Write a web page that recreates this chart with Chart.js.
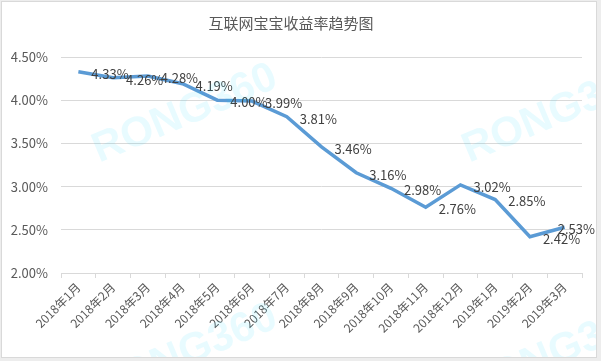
<!DOCTYPE html>
<html>
<head>
<meta charset="utf-8">
<script src="https://cdn.jsdelivr.net/npm/chart.js@4"></script>
<style>
  html, body { margin: 0; padding: 0; background: #ededed; }
  #wrap { width: 601px; height: 361px; }
</style>
</head>
<body>
<div id="wrap"><canvas id="yieldChart" width="601" height="361"></canvas></div>
<script>
'use strict';

// ---- data ----
const chartTitle = '互联网宝宝收益率趋势图';
const months = ['2018年1月', '2018年2月', '2018年3月', '2018年4月', '2018年5月', '2018年6月',
  '2018年7月', '2018年8月', '2018年9月', '2018年10月', '2018年11月', '2018年12月',
  '2019年1月', '2019年2月', '2019年3月'];
const yieldPct = [4.33, 4.26, 4.28, 4.19, 4.00, 3.99, 3.81, 3.46, 3.16, 2.98, 2.76, 3.02, 2.85, 2.42, 2.53];
const yTicks = [2.0, 2.5, 3.0, 3.5, 4.0, 4.5];

const FONT = "'Noto Sans CJK SC', 'Noto Sans', sans-serif";
const fmtPct = v => v.toFixed(2) + '%';

// frame + faint watermark
const framePlugin = {
  id: 'frame',
  beforeDraw(chart) {
    const c = chart.ctx;
    c.save();
    c.fillStyle = '#ededed';
    c.fillRect(0, 0, chart.width, chart.height);
    c.fillStyle = '#ffffff';
    c.fillRect(1, 1, 596, 357);
    c.strokeStyle = '#d9d9d9';
    c.lineWidth = 1;
    c.strokeRect(1.5, 1.5, 595, 356);
    c.restore();
  },
  afterDraw(chart) {
    const c = chart.ctx;
    c.save();
    c.beginPath();
    c.rect(2, 2, 594, 355);
    c.clip();
    c.fillStyle = 'rgba(0, 210, 255, 0.09)';
    c.font = "bold 42px 'Liberation Sans', sans-serif";
    c.textAlign = 'center';
    c.textBaseline = 'middle';
    [[185, 114], [555, 114], [185, 354], [555, 354]].forEach(([x, y]) => {
      c.save();
      c.translate(x, y);
      c.rotate(-0.4);
      c.fillText('RONG360', 0, 0);
      c.restore();
    });
    c.restore();
  }
};

// value labels to the right of each point (Excel style)
const labelPlugin = {
  id: 'pointLabels',
  afterDatasetsDraw(chart) {
    const c = chart.ctx;
    const meta = chart.getDatasetMeta(0);
    c.save();
    c.font = '13px ' + FONT;
    c.fillStyle = '#404040';
    c.textBaseline = 'middle';
    meta.data.forEach((pt, i) => {
      const txt = fmtPct(yieldPct[i]);
      const w = c.measureText(txt).width;
      let x = pt.x + 13;
      if (x + w > 595) x = 595 - w;
      c.fillText(txt, x, pt.y + 2);
    });
    c.restore();
  }
};

const ctx = document.getElementById('yieldChart').getContext('2d');
new Chart(ctx, {
  type: 'line',
  data: {
    labels: months,
    datasets: [{
      data: yieldPct,
      borderColor: '#5b9bd5',
      borderWidth: 3.5,
      pointRadius: 0,
      tension: 0,
      fill: false,
    }]
  },
  options: {
    responsive: false,
    animation: false,
    layout: { padding: { left: 0, right: 19, top: 0, bottom: 0 } },
    plugins: {
      legend: { display: false },
      tooltip: { enabled: false },
      title: {
        display: true,
        text: chartTitle,
        color: '#595959',
        font: { family: FONT, size: 15, weight: 'normal' },
        padding: { top: 14, bottom: 25 }
      }
    },
    scales: {
      x: {
        offset: true,
        grid: { display: true, drawOnChartArea: false, offset: true, color: '#d9d9d9', tickLength: 5 },
        border: { display: true, color: '#d9d9d9' },
        ticks: {
          color: '#595959',
          font: { family: FONT, size: 12 },
          maxRotation: 45,
          minRotation: 45,
          autoSkip: false,
          padding: 2
        },
        afterFit(scale) { scale.height = 88; }
      },
      y: {
        min: yTicks[0],
        max: yTicks[yTicks.length - 1],
        afterBuildTicks(scale) { scale.ticks = yTicks.map(v => ({ value: v })); },
        grid: { color: '#d9d9d9', drawTicks: false },
        border: { display: false },
        ticks: {
          color: '#595959',
          font: { family: FONT, size: 13 },
          padding: 13,
          callback: v => fmtPct(v)
        },
        afterFit(scale) { scale.width = 61; }
      }
    }
  },
  plugins: [framePlugin, labelPlugin]
});
</script>
</body>
</html>
